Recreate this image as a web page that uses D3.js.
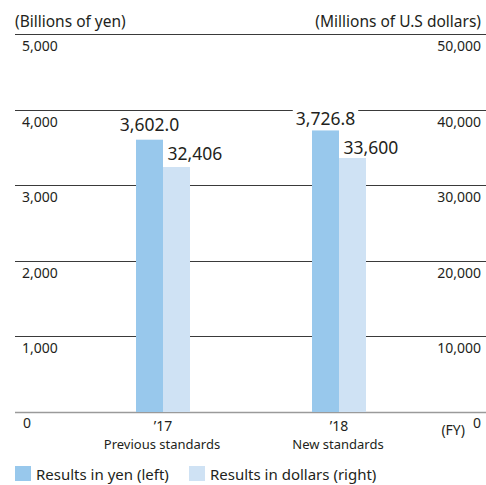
<!DOCTYPE html>
<html>
<head>
<meta charset="utf-8">
<script src="https://cdn.jsdelivr.net/npm/d3@7/dist/d3.min.js"></script>
<style>
  html, body { margin: 0; padding: 0; background: #fff; }
  svg { display: block; font-family: "Noto Sans", "Open Sans", sans-serif; }
</style>
</head>
<body>
<svg id="chart" width="486" height="485"></svg>
<script>
// Fiscal years and their accounting basis
const years = ["\u201917", "\u201918"];
const standards = ["Previous standards", "New standards"];
// Results in billions of yen (left axis)
const yenValues = [3602.0, 3726.8];
const yenLabels = ["3,602.0", "3,726.8"];
// Results in millions of US dollars (right axis)
const usdValues = [32406, 33600];
const usdLabels = ["32,406", "33,600"];
// Axis ticks
const leftTicks = [0, 1000, 2000, 3000, 4000, 5000];
const rightTicks = [0, 10000, 20000, 30000, 40000, 50000];
const seriesNames = ["Results in yen (left)", "Results in dollars (right)"];

const colors = { yen: "#98c8ec", usd: "#cfe2f4", grid: "#3a3a3a", base: "#9a9a9a", text: "#231f20" };

const svg = d3.select("#chart");
const plotLeft = 15, plotRight = 486;
const yTop = 34, yBottom = 412;
const barW = 27;

const yL = d3.scaleLinear().domain([0, 5000]).range([yBottom, yTop]);
const yR = d3.scaleLinear().domain([0, 50000]).range([yBottom, yTop]);
const x = d3.scalePoint().domain(years).range([163, 339]);

// Gridlines
svg.append("g").selectAll("line")
  .data(leftTicks.filter(t => t > 0))
  .join("line")
  .attr("x1", plotLeft).attr("x2", plotRight)
  .attr("y1", d => Math.round(yL(d)) + 0.5).attr("y2", d => Math.round(yL(d)) + 0.5)
  .attr("stroke", colors.grid).attr("stroke-width", 1);

// Baseline
svg.append("line")
  .attr("x1", plotLeft).attr("x2", plotRight)
  .attr("y1", Math.round(yL(0)) + 0.5).attr("y2", Math.round(yL(0)) + 0.5)
  .attr("stroke", colors.base).attr("stroke-width", 1.5);

// Axis titles
svg.append("text").attr("x", plotLeft).attr("y", 27)
  .attr("font-size", 15.5).attr("fill", colors.text).text("(Billions of yen)");
svg.append("text").attr("x", 481).attr("y", 27).attr("text-anchor", "end")
  .attr("font-size", 15.5).attr("fill", colors.text).text("(Millions of U.S dollars)");

// Left tick labels (below each gridline)
svg.append("g").selectAll("text")
  .data(leftTicks)
  .join("text")
  .attr("x", d => d === 0 ? 23 : 22)
  .attr("y", d => d === 0 ? 428 : yL(d) + 17)
  .attr("font-size", 14).attr("fill", colors.text)
  .text(d => d3.format(",")(d));

// Right tick labels
svg.append("g").selectAll("text")
  .data(rightTicks)
  .join("text")
  .attr("x", 481).attr("text-anchor", "end")
  .attr("y", d => d === 0 ? 428 : yR(d) + 17)
  .attr("font-size", 14).attr("fill", colors.text)
  .text(d => d3.format(",")(d));

svg.append("text").attr("x", 465).attr("y", 435).attr("text-anchor", "end")
  .attr("font-size", 14).attr("fill", colors.text).text("(FY)");

// Bars
svg.append("g").selectAll("rect")
  .data(years)
  .join("rect")
  .attr("x", d => x(d) - barW)
  .attr("y", (d, i) => yL(yenValues[i]))
  .attr("width", barW)
  .attr("height", (d, i) => yL(0) - yL(yenValues[i]))
  .attr("fill", colors.yen);

svg.append("g").selectAll("rect")
  .data(years)
  .join("rect")
  .attr("x", d => x(d))
  .attr("y", (d, i) => yR(usdValues[i]))
  .attr("width", barW)
  .attr("height", (d, i) => yR(0) - yR(usdValues[i]))
  .attr("fill", colors.usd);

// Yen value labels with a white backing so the gridline breaks around them
const yenLift = [9, 5];
const yenG = svg.append("g");
years.forEach((yr, i) => {
  const g = yenG.append("g");
  const t = g.append("text")
    .attr("x", x(yr) - barW / 2)
    .attr("y", yL(yenValues[i]) - yenLift[i])
    .attr("text-anchor", "middle")
    .attr("font-size", 17.5).attr("fill", colors.text)
    .text(yenLabels[i]);
  const bb = t.node().getBBox();
  g.insert("rect", "text")
    .attr("x", bb.x - 3).attr("y", bb.y)
    .attr("width", bb.width + 6).attr("height", bb.height)
    .attr("fill", "#fff");
});

// Dollar value labels
const usdLift = [7, 4];
svg.append("g").selectAll("text")
  .data(years)
  .join("text")
  .attr("x", d => x(d) + 4.5)
  .attr("y", (d, i) => yR(usdValues[i]) - usdLift[i])
  .attr("font-size", 17.5).attr("fill", colors.text)
  .text((d, i) => usdLabels[i]);

// Category labels: fiscal year with the accounting basis beneath it
const cat = svg.append("g").attr("text-anchor", "middle").attr("fill", colors.text).attr("font-size", 13);
cat.selectAll("text.yr")
  .data(years).join("text").attr("class", "yr")
  .attr("x", d => x(d)).attr("y", 431)
  .attr("font-size", 14).text(d => d);
cat.selectAll("text.std")
  .data(years).join("text").attr("class", "std")
  .attr("x", d => x(d) - 1).attr("y", 449)
  .text((d, i) => standards[i]);

// Legend
const legend = svg.append("g");
const legendX = [15, 189];
const legendColors = [colors.yen, colors.usd];
seriesNames.forEach((name, i) => {
  legend.append("rect").attr("x", legendX[i]).attr("y", 466)
    .attr("width", 16).attr("height", 15).attr("fill", legendColors[i]);
  legend.append("text").attr("x", legendX[i] + 21).attr("y", 480)
    .attr("font-size", 15).attr("fill", colors.text).text(name);
});
</script>
</body>
</html>
